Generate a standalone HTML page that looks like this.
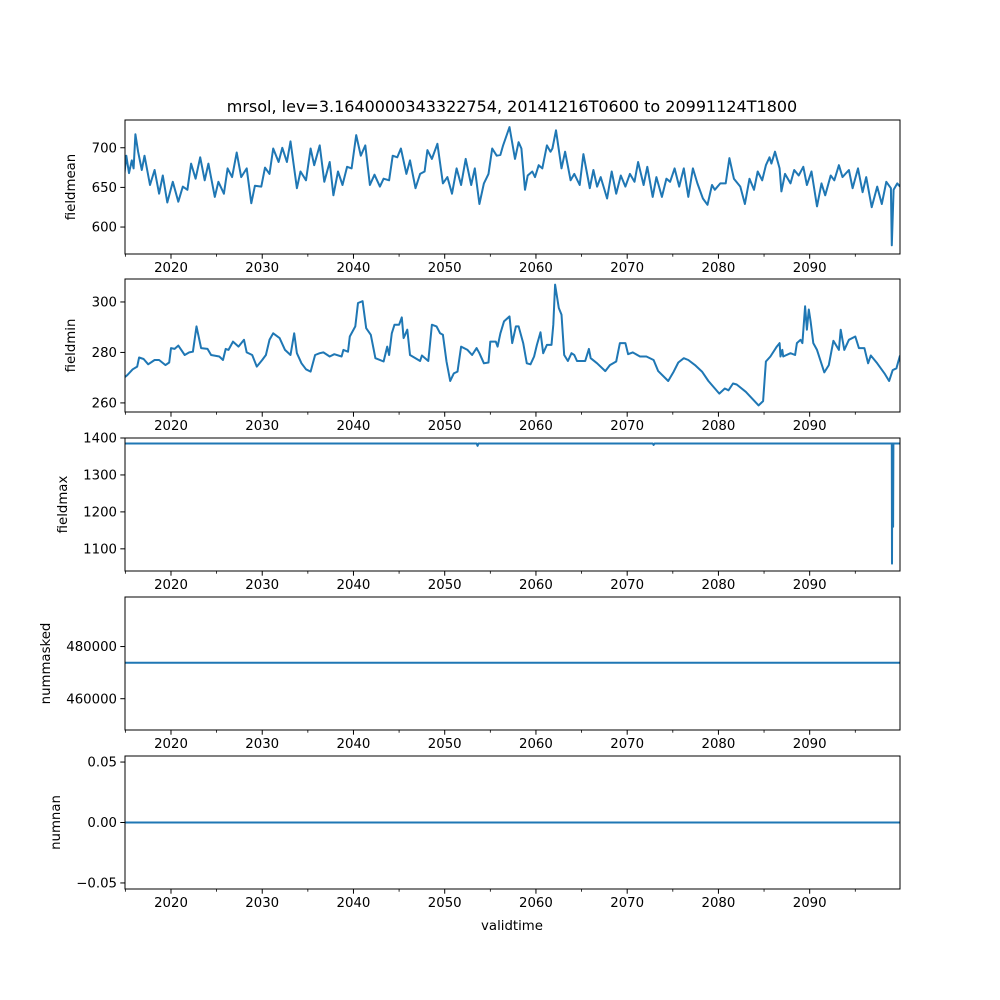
<!DOCTYPE html>
<html><head><meta charset="utf-8"><style>
body{margin:0;background:#fff}
svg{display:block;font-family:"DejaVu Sans","Liberation Sans",sans-serif}
</style></head><body>
<svg id="fig" width="1000" height="1000" viewBox="0 0 1000 1000">
<text x="512" y="112" font-size="16" text-anchor="middle">mrsol, lev=3.1640000343322754, 20141216T0600 to 20991124T1800</text>
<text x="512" y="930" font-size="13.3" text-anchor="middle">validtime</text>
</svg>
<script>
const meanYears=[2014.86,2015.1,2015.4,2015.7,2015.9,2016.1,2016.4,2016.8,2017.1,2017.7,2018.2,2018.7,2019.1,2019.6,2020.2,2020.8,2021.3,2021.8,2022.2,2022.7,2023.2,2023.7,2024.1,2024.8,2025.2,2025.8,2026.2,2026.7,2027.2,2027.7,2028.3,2028.8,2029.2,2029.9,2030.3,2030.8,2031.2,2031.8,2032.2,2032.7,2033.1,2033.8,2034.2,2034.8,2035.3,2035.7,2036.3,2036.8,2037.4,2037.8,2038.3,2038.8,2039.3,2039.8,2040.3,2040.8,2041.3,2041.8,2042.3,2042.9,2043.3,2043.9,2044.3,2044.8,2045.2,2045.8,2046.2,2046.8,2047.3,2047.8,2048.1,2048.6,2049.2,2049.8,2050.3,2050.8,2051.3,2051.8,2052.3,2052.9,2053.3,2053.8,2054.3,2054.8,2055.2,2055.7,2056.1,2056.4,2057.1,2057.7,2058.1,2058.4,2058.8,2059.1,2059.6,2059.9,2060.3,2060.7,2061.2,2061.6,2061.8,2062.2,2062.8,2063.2,2063.8,2064.2,2064.8,2065.2,2065.9,2066.3,2066.7,2067.1,2067.8,2068.3,2068.8,2069.3,2069.8,2070.3,2070.8,2071.2,2071.8,2072.2,2072.8,2073.2,2073.8,2074.3,2074.7,2075.2,2075.7,2076.2,2076.7,2077.2,2077.7,2078.3,2078.8,2079.3,2079.6,2080.2,2080.8,2081.2,2081.7,2082.4,2082.9,2083.4,2083.9,2084.3,2084.8,2085.2,2085.6,2085.8,2086.2,2086.7,2086.9,2087.3,2087.9,2088.3,2088.8,2089.3,2089.7,2090.2,2090.8,2091.3,2091.7,2092.3,2092.7,2093.2,2093.6,2094.3,2094.7,2095.3,2095.8,2096.2,2096.8,2097.4,2097.9,2098.4,2098.9,2099.0,2099.2,2099.6,2099.9];
const meanVals=[663,690,668,684,674,717,695,672,690,653,672,642,665,631,657,632,651,647,680,661,688,659,680,638,657,642,674,663,694,663,674,630,652,651,675,667,699,682,700,682,708,649,670,659,699,678,703,657,682,640,670,653,676,674,716,690,703,653,666,651,661,659,690,688,699,667,684,649,667,670,697,686,705,655,663,642,674,653,686,653,674,629,655,667,699,690,691,703,726,686,707,699,647,665,670,663,678,674,703,695,699,722,674,695,659,667,653,692,649,672,651,663,636,670,642,665,651,667,657,682,653,676,638,663,638,661,657,674,651,674,638,674,655,636,628,653,647,655,655,687,661,651,629,661,647,670,659,678,688,680,695,674,645,667,655,672,665,676,653,670,626,655,640,665,659,678,663,672,649,674,644,663,625,651,629,657,649,577,647,655,651];
const minYears=[2014.86,2015.2,2015.8,2016.3,2016.5,2017,2017.5,2018.2,2018.7,2019.4,2019.8,2020,2020.4,2020.8,2021.5,2022,2022.4,2022.8,2023.3,2024,2024.4,2025.3,2025.7,2026,2026.3,2026.8,2027.4,2028,2028.3,2028.9,2029.4,2030,2030.4,2030.8,2031.2,2031.9,2032.5,2033.1,2033.5,2033.8,2034.3,2034.8,2035.3,2035.8,2036.3,2036.7,2037.4,2037.9,2038.7,2038.9,2039.4,2039.6,2040.2,2040.5,2041,2041.4,2041.9,2042.4,2043.3,2043.7,2043.9,2044.2,2044.5,2045,2045.3,2045.5,2045.9,2046.2,2046.8,2047.3,2047.5,2048.2,2048.6,2049.1,2049.5,2049.8,2050.2,2050.6,2051,2051.4,2051.8,2052.5,2053,2053.5,2053.8,2054.3,2054.8,2055,2055.6,2055.8,2056.1,2056.5,2057.1,2057.4,2057.8,2058.1,2058.6,2059,2059.4,2059.8,2060.1,2060.5,2060.8,2061.2,2061.7,2061.9,2062.1,2062.5,2062.8,2063.1,2063.5,2063.9,2064.2,2064.5,2065.4,2065.8,2066,2066.7,2067.6,2068.1,2068.8,2069.2,2069.8,2070.1,2070.6,2071.4,2072.1,2072.9,2073.4,2074.5,2075.1,2075.6,2076.2,2076.7,2077.5,2078.2,2078.9,2080.1,2080.7,2081.1,2081.6,2082,2083,2084.4,2084.9,2085.2,2085.7,2086.4,2086.7,2086.8,2087,2087.1,2087.9,2088.4,2088.6,2089,2089.2,2089.5,2089.7,2089.9,2090.1,2090.4,2090.8,2091.6,2092.1,2092.6,2093.2,2093.4,2093.8,2094.3,2095,2095.4,2096,2096.4,2096.7,2097.4,2098.2,2098.7,2099.1,2099.5,2099.9];
const minVals=[270,271,273.3,274.4,278,277.4,275.3,277,277,275,276,281.7,281.4,282.7,279,280,280.3,290.3,281.7,281.4,279,278.4,277,281.4,281,284.3,282.3,285,280,279,274.4,277,279,285,287.6,285.7,281,279,287.6,279.7,275.7,273.3,272.4,279,279.7,280,278.4,279.3,278.4,281,280.3,286.3,290.3,299.6,300.3,289.6,287,277.7,276.4,282.3,279,287.6,291,291,293.9,285.7,289,279,277.7,276.6,278.8,276.6,291,290.3,287.6,287,276.4,268.7,271.7,272.4,282.3,281,279,281.7,279.7,275.7,276,284.3,284.3,282.3,287.6,292.3,294.3,283.7,290.3,290.3,283.7,275.7,275.3,278.4,283,288,279.7,283,283,291,306.9,297.6,295,279,276.6,279.7,279,276.6,276.6,281.4,277.7,275.7,272.6,275,276.4,283.7,283.7,279.3,280,278.4,278.4,277,272.6,268.7,272.4,276,277.7,277,274.8,272.4,268.7,263.7,265.7,265,267.7,267.3,264.4,259,260.7,276.4,278.4,282.3,283.7,278.4,281,278.4,279.7,279,283.7,285,283.7,298.3,289,297,292.3,283.7,281,272.1,275,284.6,281,289,281,285,286.3,281.7,281.7,275.7,278.8,275.7,271.7,268.7,273,273.7,278.8];
const maxYears=[2014.96,2053.5,2053.6,2053.7,2072.8,2072.9,2073.0,2099.0,2099.02,2099.06,2099.1,2099.14,2099.18,2099.9];
const maxVals=[1385,1385,1379,1385,1385,1381,1385,1385,1060,1385,1385,1160,1385,1385];
const maskYears=[2014.96,2099.9];
const maskVals=[473800,473800];
const nanYears=[2014.96,2099.9];
const nanVals=[0,0];
const xTicks=[2020,2030,2040,2050,2060,2070,2080,2090];
const xMinor=[2015,2025,2035,2045,2055,2065,2075,2085,2095];
const panels=[
 {name:'fieldmean',top:120,bot:254,lo:566,hi:735,ticks:[600,650,700],labels:['600','650','700'],lx:75,xs:meanYears,ys:meanVals},
 {name:'fieldmin',top:279,bot:412,lo:256.4,hi:309.1,ticks:[260,280,300],labels:['260','280','300'],lx:75,xs:minYears,ys:minVals},
 {name:'fieldmax',top:438,bot:571,lo:1040,hi:1400,ticks:[1100,1200,1300,1400],labels:['1100','1200','1300','1400'],lx:67,xs:maxYears,ys:maxVals},
 {name:'nummasked',top:597,bot:730,lo:448000,hi:499000,ticks:[460000,480000],labels:['460000','480000'],lx:50,xs:maskYears,ys:maskVals},
 {name:'numnan',top:756,bot:889,lo:-0.055,hi:0.055,ticks:[-0.05,0,0.05],labels:['\u22120.05','0.00','0.05'],lx:60,xs:nanYears,ys:nanVals}
];
const L=125,R=900,X0=2014.96,X1=2099.9;
const sx=v=>L+(v-X0)/(X1-X0)*(R-L);
const NS='http://www.w3.org/2000/svg';
const fig=document.getElementById('fig');
function mk(tag,attrs,parent){const e=document.createElementNS(NS,tag);for(const k in attrs)e.setAttribute(k,attrs[k]);(parent||fig).appendChild(e);return e;}
panels.forEach(p=>{
 const sy=v=>p.bot-(v-p.lo)/(p.hi-p.lo)*(p.bot-p.top);
 const g=mk('g',{});
 
 
 const cp=mk('clipPath',{id:'c-'+p.name},g);
 mk('rect',{x:L,y:p.top,width:R-L,height:p.bot-p.top},cp);
 let d='';
 p.xs.forEach((x,i)=>{d+=(i?'L':'M')+sx(x).toFixed(1)+','+sy(p.ys[i]).toFixed(1);});
 const line=mk('path',{d:d,fill:'none',stroke:'#1f77b4','stroke-width':2,'stroke-linejoin':'round','clip-path':'url(#c-'+p.name+')'},g);
 
 
 const fr=mk('rect',{x:L,y:p.top,width:R-L,height:p.bot-p.top,fill:'none',stroke:'#000','stroke-width':1},g);
 
 
 xTicks.forEach(t=>{
  const x=sx(t);
  mk('line',{x1:x,x2:x,y1:p.bot,y2:p.bot+4.7,stroke:'#000','stroke-width':1},g);
  const tx=mk('text',{x:x,y:p.bot+18,'font-size':13.3,'text-anchor':'middle'},g);
  tx.textContent=t;
  
  
 });
 xMinor.forEach(t=>{const x=sx(t);mk('line',{x1:x,x2:x,y1:p.bot,y2:p.bot+2.7,stroke:'#000','stroke-width':0.8},g);});
 p.ticks.forEach((t,i)=>{
  const y=sy(t);
  mk('line',{x1:L-4.7,x2:L,y1:y,y2:y,stroke:'#000','stroke-width':1},g);
  const tx=mk('text',{x:L-8,y:y+4.7,'font-size':13.3,'text-anchor':'end'},g);
  tx.textContent=p.labels[i];
  
  
 });
 const cy=(p.top+p.bot)/2;
 const yl=mk('text',{x:p.lx,y:cy,'font-size':13.3,'text-anchor':'middle',transform:'rotate(-90 '+p.lx+' '+cy+')'},g);
 yl.textContent=p.name;
 
 
});
</script>
</body></html>
